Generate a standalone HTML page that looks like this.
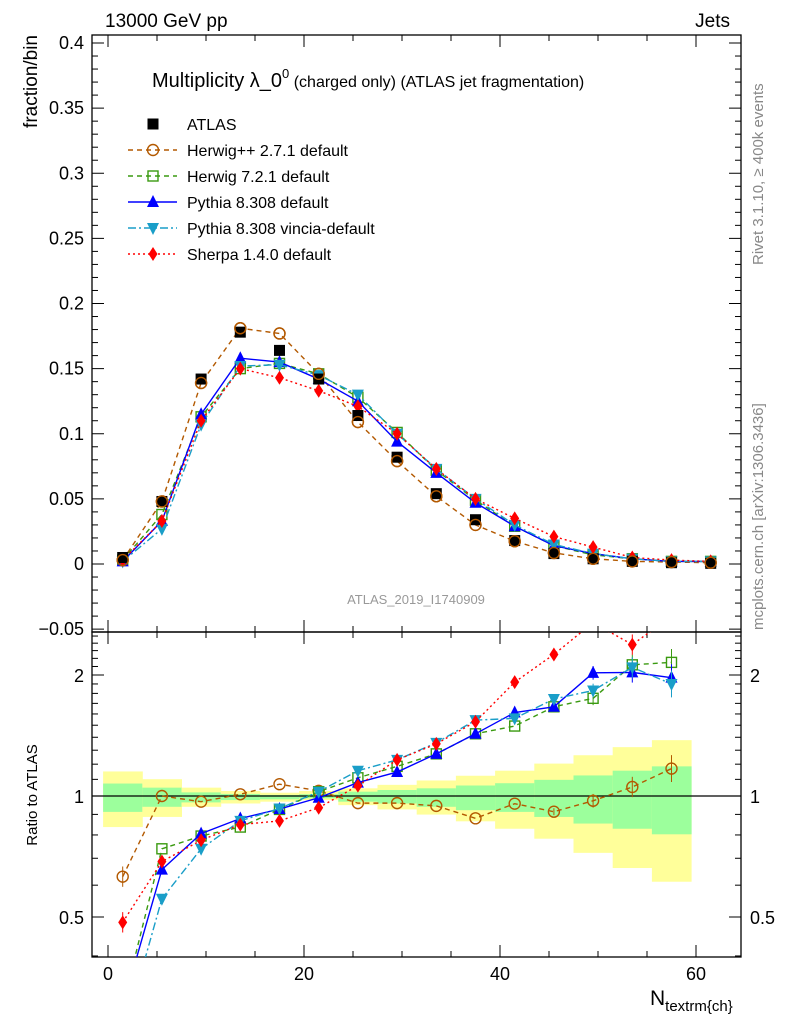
<!DOCTYPE html>
<html><head><meta charset="utf-8"><style>
body{margin:0;background:#fff;}
svg{display:block;font-family:"Liberation Sans",sans-serif;}
</style></head><body>
<svg id="c" width="786" height="1024" viewBox="0 0 786 1024"></svg>
<script>
const centers=[1.5,5.5,9.5,13.5,17.5,21.5,25.5,29.5,33.5,37.5,41.5,45.5,49.5,53.5,57.5,61.5];
const atlas=[0.005,0.048,0.142,0.178,0.164,0.142,0.114,0.082,0.054,0.034,0.018,0.008,0.004,0.002,0.001,0.0005];
const herwigpp=[0.003,0.048,0.139,0.181,0.177,0.146,0.109,0.079,0.052,0.030,0.0175,0.0085,0.004,0.002,0.0015,0.001];
const herwig7=[0.003,0.038,0.113,0.150,0.154,0.146,0.128,0.101,0.072,0.049,0.029,0.014,0.007,0.004,0.002,0.002];
const pythia=[0.002,0.033,0.115,0.158,0.155,0.142,0.125,0.094,0.070,0.047,0.029,0.014,0.008,0.004,0.002,0.002];
const vincia=[0.002,0.027,0.107,0.152,0.153,0.145,0.130,0.100,0.073,0.050,0.030,0.015,0.008,0.004,0.002,0.002];
const sherpa=[0.003,0.033,0.110,0.150,0.143,0.133,0.121,0.100,0.073,0.050,0.035,0.021,0.013,0.005,0.003,0.002];
const rHerwigpp=[0.63,1.00,0.968,1.01,1.07,1.03,0.96,0.96,0.945,0.88,0.957,0.914,0.973,1.053,1.17];
const rHerwig7=[0.3,0.739,0.795,0.837,0.926,1.025,1.11,1.185,1.273,1.428,1.493,1.667,1.75,2.12,2.15];
const rPythia=[0.3,0.656,0.806,0.879,0.928,0.99,1.08,1.147,1.273,1.428,1.613,1.667,2.025,2.03,1.97];
const rVincia=[0.25,0.555,0.739,0.867,0.931,1.025,1.156,1.23,1.356,1.544,1.56,1.743,1.83,2.09,1.9];
const rSherpa=[0.485,0.687,0.776,0.849,0.867,0.935,1.061,1.23,1.348,1.53,1.92,2.25,2.7,2.38,2.8];
const yelLo=[0.837,0.887,0.940,0.958,0.968,0.977,0.949,0.926,0.899,0.865,0.829,0.783,0.722,0.662,0.612];
const yelHi=[1.151,1.101,1.049,1.029,1.019,1.029,1.045,1.066,1.093,1.123,1.156,1.204,1.263,1.323,1.377];
const grnLo=[0.913,0.940,0.964,0.977,0.981,0.987,0.968,0.958,0.940,0.922,0.913,0.887,0.854,0.829,0.803];
const grnHi=[1.074,1.049,1.021,1.012,1.006,1.010,1.025,1.035,1.045,1.062,1.076,1.097,1.125,1.156,1.185];
const xTicks=[0,20,40,60];
const yTicks=[-0.05,0,0.05,0.1,0.15,0.2,0.25,0.3,0.35,0.4];
const yTickLabels=["\u22120.05","0","0.05","0.1","0.15","0.2","0.25","0.3","0.35","0.4"];
const rTicks=[0.5,1,2];

const NS="http://www.w3.org/2000/svg";
const svg=document.getElementById('c');
const L=92,R=741,T=35,MB=632,RB=957;
const X=v=>108+v*9.8;
const Y=v=>564-v*1302.5;
const RY=v=>796-121*Math.log2(v);
function el(tag,attrs,parent){const e=document.createElementNS(NS,tag);for(const k in attrs)e.setAttribute(k,attrs[k]);(parent||svg).appendChild(e);return e;}
function txt(s,attrs,parent){const e=el('text',attrs,parent);e.textContent=s;return e;}

const defs=el('defs',{});
const cp1=el('clipPath',{id:'cm'},defs);el('rect',{x:L,y:T,width:R-L,height:MB-T},cp1);
const cp2=el('clipPath',{id:'cr'},defs);el('rect',{x:L,y:MB,width:R-L,height:RB-MB},cp2);

const gb=el('g',{'clip-path':'url(#cr)'});


for(let i=0;i<yelLo.length;i++){
  const x0=X(centers[i]-2),w=4*9.8;
  const r1=el('rect',{x:x0,y:RY(yelHi[i]),width:w+0.5,height:RY(yelLo[i])-RY(yelHi[i]),fill:'#ffff9a'},gb);
  
  
  const r2=el('rect',{x:x0,y:RY(grnHi[i]),width:w+0.5,height:RY(grnLo[i])-RY(grnHi[i]),fill:'#9cff9c'},gb);
  
  
}
const one=el('line',{x1:L,x2:R,y1:RY(1),y2:RY(1),stroke:'#000','stroke-width':1.3});



const f1=el('rect',{x:L,y:T,width:R-L,height:MB-T,fill:'none',stroke:'#000','stroke-width':1.3});


const f2=el('rect',{x:L,y:MB,width:R-L,height:RB-MB,fill:'none',stroke:'#000','stroke-width':1.3});



for(let v=0;v<=64;v+=5){
  const big=v%20===0?12:6;
  for(const [y0,d] of [[MB,-1],[T,1],[RB,-1],[MB,1]]){
    el('line',{x1:X(v),x2:X(v),y1:y0,y2:y0+d*big,stroke:'#000'});
  }
}
xTicks.forEach(v=>{const t=txt(String(v),{x:X(v),y:980,'font-size':18,'text-anchor':'middle'});

});
for(let k=-5;k<=40;k++){const v=k/100;const y=Y(v);if(y<T||y>MB)continue;const big=k%5===0?12:6;
  el('line',{x1:L,x2:L+big,y1:y,y2:y,stroke:'#000'});el('line',{x1:R,x2:R-big,y1:y,y2:y,stroke:'#000'});}
yTicks.forEach((v,i)=>{const t=txt(yTickLabels[i],{x:84,y:Y(v)+6,'font-size':18,'text-anchor':'end'});

});
[0.4,0.5,0.6,0.7,0.8,0.9,1,2].forEach(v=>{const y=RY(v);const big=(v===0.5||v===1||v===2)?12:6;
  el('line',{x1:L,x2:L+big,y1:y,y2:y,stroke:'#000'});el('line',{x1:R,x2:R-big,y1:y,y2:y,stroke:'#000'});});
[1.1,1.2,1.3,1.4,1.5,1.6,1.7,1.8,1.9,2.1,2.2,2.3,2.4,2.5].forEach(v=>{const y=RY(v);if(y<MB)return;
  el('line',{x1:L,x2:L+6,y1:y,y2:y,stroke:'#000'});el('line',{x1:R,x2:R-6,y1:y,y2:y,stroke:'#000'});});
rTicks.forEach(v=>{
  const a=txt(String(v),{x:84,y:RY(v)+7,'font-size':18,'text-anchor':'end'});
  
  
  const b=txt(String(v),{x:750,y:RY(v)+7,'font-size':18});
  
  
});

function marker(g,type,x,y,color){
  let m;
  const s=5.5;
  if(type==='sq') m=el('rect',{x:x-s,y:y-s,width:2*s,height:2*s,fill:'#000'},g);
  else if(type==='circ') m=el('circle',{cx:x,cy:y,r:5.5,fill:'none',stroke:color,'stroke-width':1.4},g);
  else if(type==='osq') m=el('rect',{x:x-5,y:y-5,width:10,height:10,fill:'none',stroke:color,'stroke-width':1.4},g);
  else if(type==='tri') m=el('polygon',{points:`${x},${y-7} ${x-6},${y+5} ${x+6},${y+5}`,fill:color},g);
  else if(type==='itri') m=el('polygon',{points:`${x},${y+7} ${x-6},${y-5} ${x+6},${y-5}`,fill:color},g);
  else if(type==='dia') m=el('polygon',{points:`${x},${y-7} ${x-4.5},${y} ${x},${y+7} ${x+4.5},${y}`,fill:color},g);
  return m;
}
const series=[
 {name:'herwigpp',vals:herwigpp,r:rHerwigpp,color:'#b35900',dash:'5,4',m:'circ'},
 {name:'herwig7',vals:herwig7,r:rHerwig7,color:'#3a9a10',dash:'5,4',m:'osq'},
 {name:'pythia',vals:pythia,r:rPythia,color:'#0000ff',dash:'',m:'tri'},
 {name:'vincia',vals:vincia,r:rVincia,color:'#1a9ec8',dash:'8,3,2,3',m:'itri'},
 {name:'sherpa',vals:sherpa,r:rSherpa,color:'#ff0000',dash:'2,3',m:'dia'}
];
const gm=el('g',{'clip-path':'url(#cm)'});
const gr=el('g',{'clip-path':'url(#cr)'});
series.forEach(s=>{
  const g=el('g',{},gm);
  
  
  el('polyline',{points:s.vals.map((v,i)=>X(centers[i])+','+Y(v)).join(' '),fill:'none',stroke:s.color,'stroke-width':1.4,'stroke-dasharray':s.dash},g);
  s.vals.forEach((v,i)=>{const m=marker(g,s.m,X(centers[i]),Y(v),s.color);
    
    });
  const h=el('g',{},gr);
  
  
  el('polyline',{points:s.r.map((v,i)=>X(centers[i])+','+RY(v)).join(' '),fill:'none',stroke:s.color,'stroke-width':1.4,'stroke-dasharray':s.dash},h);
  s.r.forEach((v,i)=>{
    if(i>=11||i===0){const e=i===0?1.06:(1+0.02*(i-10));el('line',{x1:X(centers[i]),x2:X(centers[i]),y1:RY(v*e),y2:RY(v/e),stroke:s.color},h);}
    const m=marker(h,s.m,X(centers[i]),RY(v),s.color);
    
    });
});
const ga=el('g',{},gm);


atlas.forEach((v,i)=>{const m=marker(ga,'sq',X(centers[i]),Y(v),'#000');
  
  });
series.slice(0,1).forEach(s=>{s.vals.forEach((v,i)=>{const m=marker(gm,s.m,X(centers[i]),Y(v),s.color);
  
  });});

const lg=el('g',{});


const labels=['ATLAS','Herwig++ 2.7.1 default','Herwig 7.2.1 default','Pythia 8.308 default','Pythia 8.308 vincia-default','Sherpa 1.4.0 default'];
labels.forEach((lab,i)=>{
  const y=124+26*i;
  const e=el('g',{},lg);
  
  
  if(i===0) marker(e,'sq',153,y,'#000');
  else{const s=series[i-1];
    el('line',{x1:128,x2:177,y1:y,y2:y,stroke:s.color,'stroke-width':1.4,'stroke-dasharray':s.dash},e);
    marker(e,s.m,153,y,s.color);}
  txt(lab,{x:187,y:y+6,'font-size':16},e);
});
</script>
<svg width="786" height="1024" style="position:absolute;left:0;top:0">
<text x="105" y="27" font-size="19" font-family="Liberation Sans">13000 GeV pp</text>
<text x="730" y="27" font-size="19" text-anchor="end" font-family="Liberation Sans">Jets</text>
<text x="152" y="87" font-size="20" font-family="Liberation Sans">Multiplicity λ_0<tspan font-size="13" dy="-9">0</tspan><tspan font-size="16" dy="9"> (charged only) (ATLAS jet fragmentation)</tspan></text>
<text transform="translate(37,35) rotate(-90)" font-size="19" text-anchor="end" font-family="Liberation Sans">fraction/bin</text>
<text transform="translate(37,795) rotate(-90)" font-size="15" text-anchor="middle" font-family="Liberation Sans">Ratio to ATLAS</text>
<text transform="translate(763,265) rotate(-90)" font-size="15" fill="#888" font-family="Liberation Sans">Rivet 3.1.10, ≥ 400k events</text>
<text transform="translate(763,630) rotate(-90)" font-size="15" fill="#888" font-family="Liberation Sans">mcplots.cern.ch [arXiv:1306.3436]</text>
<text x="416" y="604" font-size="13" fill="#999" text-anchor="middle" font-family="Liberation Sans">ATLAS_2019_I1740909</text>
<text x="650" y="1005" font-size="21" font-family="Liberation Sans">N<tspan font-size="15" dy="6">textrm{ch}</tspan></text>
</svg>
</body></html>
